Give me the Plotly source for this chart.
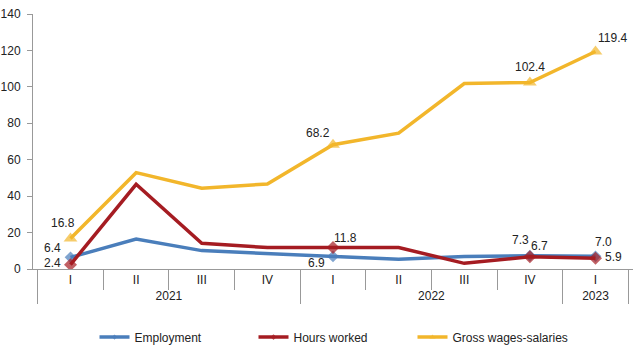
import plotly.graph_objects as go

years = ["2021", "2021", "2021", "2021", "2022", "2022", "2022", "2022", "2023"]
quarters = ["I", "II", "III", "IV", "I", "II", "III", "IV", "I"]

employment = [6.4, 16.5, 10.1, 8.5, 6.9, 5.3, 6.9, 7.3, 7.0]
hours_worked = [2.4, 46.5, 14.1, 11.8, 11.8, 11.8, 3.1, 6.7, 5.9]
gross_wages = [16.8, 52.9, 44.3, 46.7, 68.2, 74.6, 101.8, 102.4, 119.4]

# points that carry a marker and a value label
labelled = [0, 4, 7, 8]

series = [
    ("Employment", employment, "#4A7EBB", "diamond", 9),
    ("Hours worked", hours_worked, "#A51C22", "diamond", 10),
    ("Gross wages-salaries", gross_wages, "#F2B62B", "triangle-up", 12),
]

# label offsets (px) per series and labelled point
offsets = {
    "Employment": [(-18, 9), (-17, -7), (-9, 16), (8, 14)],
    "Hours worked": [(-18, 2), (12, 10), (10, 11), (18, 1)],
    "Gross wages-salaries": [(-8, 15), (-15, 12), (0, 15), (17, 14)],
}

fig = go.Figure()
x = [years, quarters]
for name, vals, color, symbol, size in series:
    sizes = [size if i in labelled else 0 for i in range(len(vals))]
    fig.add_trace(go.Scatter(
        x=x, y=vals, name=name, mode="lines+markers",
        line=dict(color=color, width=3.5),
        marker=dict(symbol=symbol, size=sizes, color=color, line=dict(width=0)),
    ))

annotations = []
for name, vals, color, symbol, size in series:
    for k, i in enumerate(labelled):
        dx, dy = offsets[name][k]
        annotations.append(dict(
            x=i, y=vals[i], xref="x", yref="y", text=f"{vals[i]:.1f}",
            showarrow=False, xshift=dx, yshift=dy,
            font=dict(size=12, color="#222222"),
        ))

fig.update_layout(
    width=643, height=349,
    margin=dict(l=33, r=10, t=14, b=80, autoexpand=False),
    paper_bgcolor="white", plot_bgcolor="white",
    font=dict(family="Liberation Sans, Arial, sans-serif", size=12, color="#222222"),
    showlegend=True,
    legend=dict(orientation="h", x=0.5, xanchor="center", y=-0.21, yanchor="top",
                font=dict(size=12), entrywidth=114, entrywidthmode="pixels"),
    annotations=annotations,
)
fig.update_xaxes(
    type="multicategory", automargin=False, showline=True, linecolor="#999999", linewidth=1,
    ticks="outside", tickson="boundaries", ticklen=20, tickcolor="#999999",
    dividercolor="#999999", dividerwidth=1, showdividers=True,
    showgrid=False, tickfont=dict(size=12),
)
fig.update_yaxes(
    range=[0, 140], dtick=20, showline=True, linecolor="#999999", linewidth=1,
    ticks="outside", ticklen=5, tickcolor="#999999", showgrid=False, automargin=False,
    zeroline=False, tickfont=dict(size=12), ticklabelstandoff=4,
)

fig.write_html("out.html")
